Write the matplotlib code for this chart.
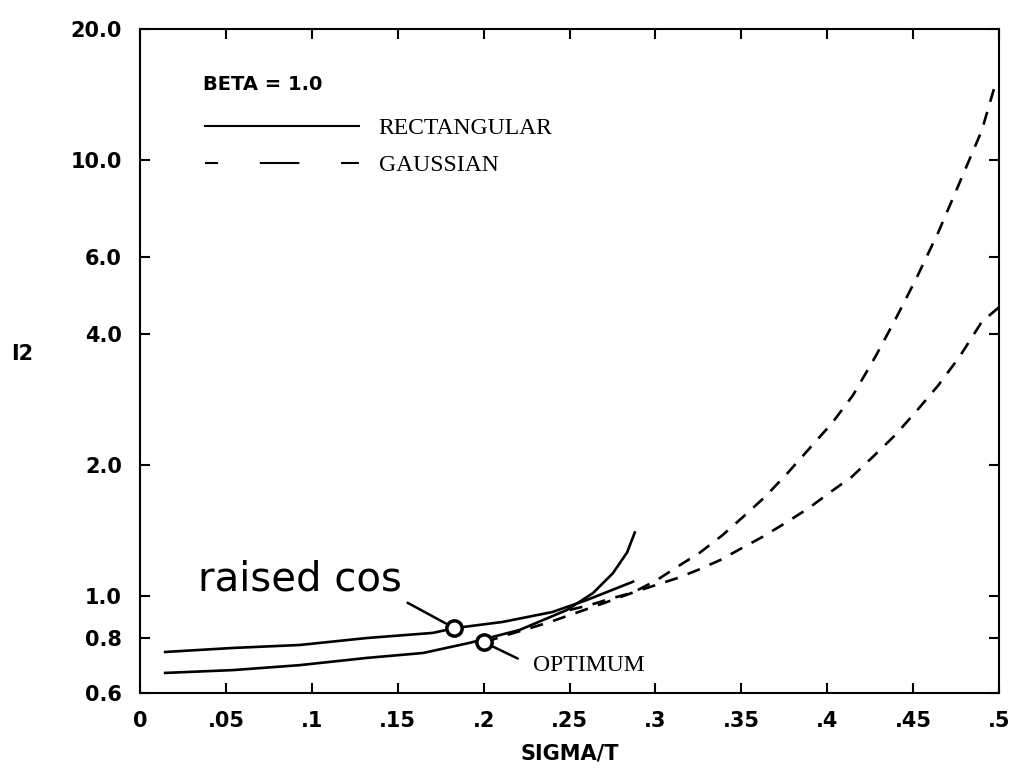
import matplotlib
matplotlib.use("Agg")
import matplotlib.pyplot as plt
from matplotlib.lines import Line2D
from matplotlib.ticker import NullLocator

plt.rcParams.update({
    'font.family': ['DejaVu Sans'],
    'axes.linewidth': 1.5,
})

# ================= data =================
# solid (rectangular) curves
rc_rect_x = [0.0146, 0.054, 0.093, 0.132, 0.1705, 0.183, 0.211, 0.240, 0.260, 0.287]
rc_rect_y = [0.745, 0.761, 0.773, 0.802, 0.824, 0.845, 0.873, 0.920, 0.980, 1.080]

opt_rect_x = [0.0146, 0.054, 0.093, 0.132, 0.1647, 0.192, 0.221, 0.2485, 0.2637, 0.2753, 0.2835, 0.288]
opt_rect_y = [0.667, 0.677, 0.695, 0.722, 0.741, 0.782, 0.837, 0.930, 1.017, 1.130, 1.260, 1.400]

# dashed (gaussian) curves
rc_gauss_x = [0.250, 0.262, 0.275, 0.287, 0.301, 0.313, 0.326, 0.339, 0.351, 0.3638,
              0.3766, 0.390, 0.403, 0.415, 0.428, 0.4395, 0.452, 0.4645, 0.477, 0.490, 0.498]
rc_gauss_y = [0.93, 0.955, 0.99, 1.02, 1.09, 1.17, 1.26, 1.38, 1.52, 1.69,
              1.91, 2.19, 2.50, 2.89, 3.54, 4.30, 5.37, 6.81, 8.87, 11.7, 15.0]

opt_gauss_x = [0.2008, 0.2136, 0.2253, 0.2387, 0.250, 0.262, 0.275, 0.287, 0.300, 0.3126,
               0.325, 0.3376, 0.3504, 0.3626, 0.3754, 0.389, 0.4016, 0.4144, 0.4267,
               0.4395, 0.452, 0.4645, 0.477, 0.490, 0.500]
opt_gauss_y = [0.785, 0.815, 0.841, 0.873, 0.905, 0.94, 0.98, 1.02, 1.06, 1.10,
               1.15, 1.21, 1.29, 1.37, 1.47, 1.59, 1.73, 1.88, 2.09,
               2.34, 2.66, 3.04, 3.54, 4.26, 4.60]

# circled design points
mark_x = [0.183, 0.200]
mark_y = [0.845, 0.785]

x_ticks = [0, 0.05, 0.1, 0.15, 0.2, 0.25, 0.3, 0.35, 0.4, 0.45, 0.5]
x_tick_labels = ['0', '.05', '.1', '.15', '.2', '.25', '.3', '.35', '.4', '.45', '.5']
y_ticks = [0.6, 0.8, 1.0, 2.0, 4.0, 6.0, 10.0, 20.0]
y_tick_labels = ['0.6', '0.8', '1.0', '2.0', '4.0', '6.0', '10.0', '20.0']

LW = 1.9
DASH = (0, (5, 4))
SERIF = 'Liberation Serif'

fig = plt.figure(figsize=(10.23, 7.74), dpi=100)
ax = fig.add_axes([0.1369, 0.1047, 0.8396, 0.8578])

ax.plot(rc_rect_x, rc_rect_y, color='black', lw=LW)
ax.plot(opt_rect_x, opt_rect_y, color='black', lw=LW)
ax.plot(rc_gauss_x, rc_gauss_y, color='black', lw=LW, linestyle=DASH)
ax.plot(opt_gauss_x, opt_gauss_y, color='black', lw=LW, linestyle=DASH)
ax.plot(mark_x, mark_y, linestyle='none', marker='o', markersize=11,
        markerfacecolor='white', markeredgecolor='black', markeredgewidth=2.5, zorder=5)

ax.set_yscale('log')
ax.set_xlim(0, 0.5)
ax.set_ylim(0.6, 20)
ax.set_xticks(x_ticks)
ax.set_xticklabels(x_tick_labels)
ax.set_yticks(y_ticks)
ax.set_yticklabels(y_tick_labels)
ax.yaxis.set_minor_locator(NullLocator())
ax.tick_params(axis='both', which='major', direction='in', length=7, width=1.5,
               top=True, right=True, labelsize=15, pad=13)
for lab in ax.get_xticklabels() + ax.get_yticklabels():
    lab.set_fontweight('bold')

ax.set_xlabel('SIGMA/T', fontsize=15, fontweight='bold', labelpad=9)
ax.set_ylabel('I2', fontsize=15, fontweight='bold', rotation=0, va='center', ha='center')
ax.yaxis.set_label_coords(-0.137, 0.51)

# legend block
ax.text(0.0734, 0.917, 'BETA = 1.0', transform=ax.transAxes, fontsize=14,
        fontweight='bold', ha='left', va='center')
h_rect = Line2D([], [], color='black', lw=1.5)
h_gauss = Line2D([], [], color='black', lw=1.5,
                 linestyle=(0, (6.3, 20, 19, 20, 8.6, 40)))
leg = ax.legend([h_rect, h_gauss], ['RECTANGULAR', 'GAUSSIAN'],
                loc='upper left', bbox_to_anchor=(0.0757, 0.867),
                frameon=False, borderpad=0, borderaxespad=0, handlelength=6.5,
                handletextpad=0.85, labelspacing=0.68,
                prop={'family': SERIF, 'size': 17})

# annotations
ax.annotate('raised cos', xy=(mark_x[0], mark_y[0]), xytext=(0.034, 1.09),
            textcoords='data', fontsize=29, ha='left', va='center',
            arrowprops=dict(arrowstyle='-', color='black', lw=1.8,
                            relpos=(1.0, 0.0), shrinkA=2, shrinkB=7))
ax.annotate('OPTIMUM', xy=(mark_x[1], mark_y[1]), xytext=(0.2288, 0.692),
            textcoords='data', fontsize=17, family=SERIF, ha='left', va='center',
            arrowprops=dict(arrowstyle='-', color='black', lw=1.8,
                            relpos=(0.0, 0.5), shrinkA=10, shrinkB=7))

fig.savefig('out.png', dpi=100)
